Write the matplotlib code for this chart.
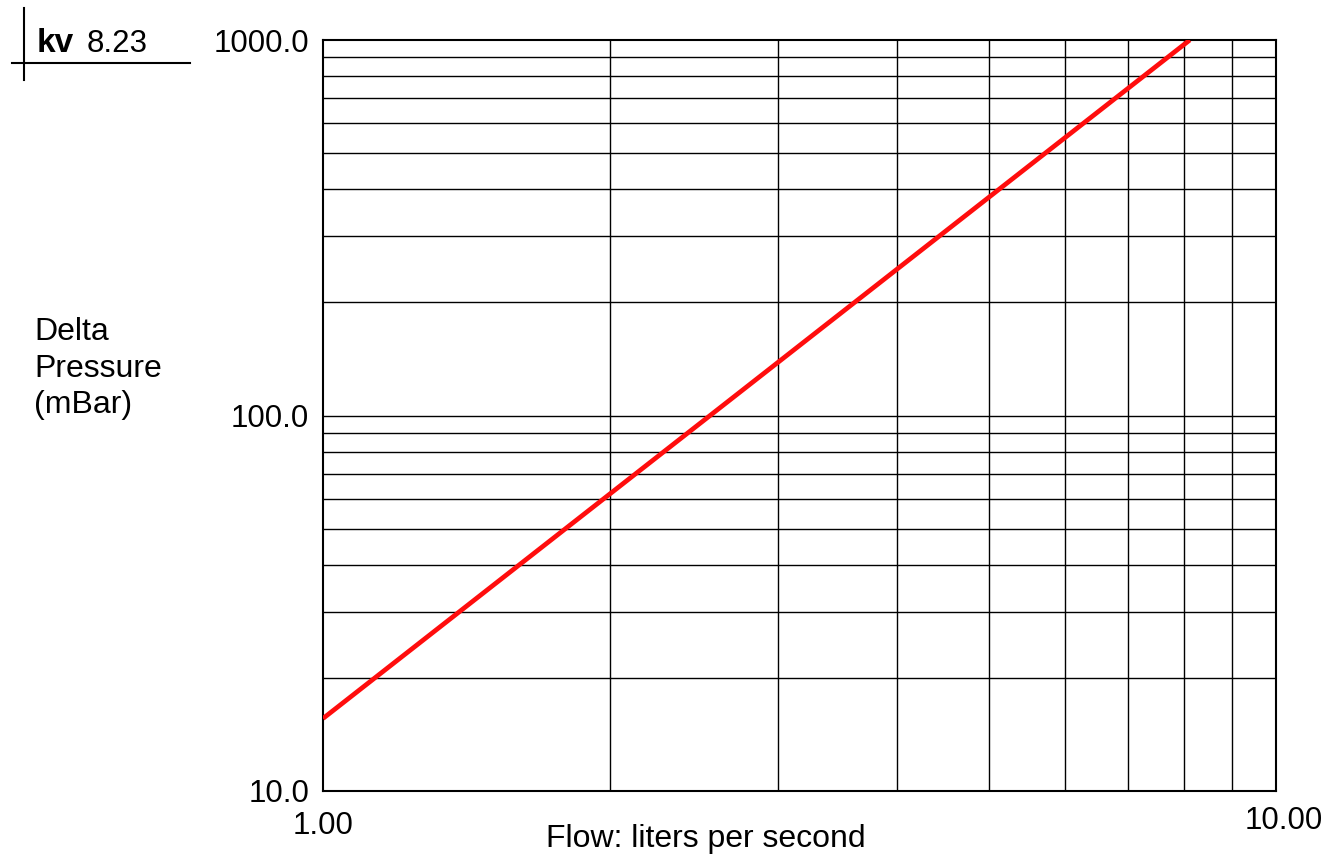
#!/usr/bin/env python3
"""Valve pressure drop chart (kv 8.23), log-log flow vs delta pressure."""

import matplotlib

matplotlib.use("Agg")
import matplotlib.pyplot as plt
from matplotlib.lines import Line2D

plt.rcParams["font.family"] = ["Liberation Sans", "DejaVu Sans"]

kv_value = "8.23"
flow_lps = [1.0, 8.12]
delta_mbar = [15.6, 1000.0]
x_grid = [2, 3, 4, 5, 6, 7, 8, 9]
y_grid = [20, 30, 40, 50, 60, 70, 80, 90, 100, 200, 300, 400, 500, 600, 700, 800, 900]
y_ticks = [10.0, 100.0, 1000.0]
y_tick_labels = ["10.0", "100.0", "1000.0"]

W, H = 1344, 858
fig = plt.figure(figsize=(W / 100, H / 100), dpi=100)
fig.patch.set_facecolor("white")


def fx(px):
    return px / W


def fy(py):
    return (H - py) / H


ax = fig.add_axes([fx(323), fy(791), fx(1276) - fx(323), fy(40) - fy(791)])
ax.set_xscale("log")
ax.set_yscale("log")
ax.set_xlim(1.0, 10.0)
ax.set_ylim(10.0, 1000.0)

for xv in x_grid:
    ax.axvline(xv, color="black", linewidth=1.0, zorder=1)
for yv in y_grid:
    ax.axhline(yv, color="black", linewidth=1.0, zorder=1)

ax.plot(flow_lps, delta_mbar, color="#ff0d0d", linewidth=3.4, solid_capstyle="butt", zorder=3)

ax.set_xticks([])
ax.set_xticks([], minor=True)
ax.set_yticks(y_ticks, labels=y_tick_labels)
ax.set_yticks([], minor=True)
ax.tick_params(axis="y", length=0, pad=10, labelsize=22.5)
for spine in ax.spines.values():
    spine.set_linewidth(1.5)
    spine.set_color("black")

xt = ax.get_xaxis_transform()
ax.text(1.0, -0.047, "1.00", transform=xt, ha="center", va="center", fontsize=22.5)
ax.text(10.0 * 1.02, -0.040, "10.00", transform=xt, ha="center", va="center", fontsize=22.5)
fig.text(fx(706), fy(847), "Flow: liters per second", ha="center", va="baseline", fontsize=23)

for label, base in [("Delta", 340), ("Pressure", 377), ("(mBar)", 413)]:
    fig.text(fx(34), fy(base), label, ha="left", va="baseline", fontsize=23)

fig.add_artist(Line2D([fx(24), fx(24)], [fy(8), fy(80)], color="black", linewidth=1.5, transform=fig.transFigure))
fig.add_artist(Line2D([fx(12), fx(190)], [fy(63), fy(63)], color="black", linewidth=1.5, transform=fig.transFigure))
fig.text(fx(37), fy(52), "kv", ha="left", va="baseline", fontsize=24, fontweight="bold")
fig.text(fx(87), fy(52), kv_value, ha="left", va="baseline", fontsize=22.5)

fig.savefig("out.png", dpi=100)
plt.close(fig)
